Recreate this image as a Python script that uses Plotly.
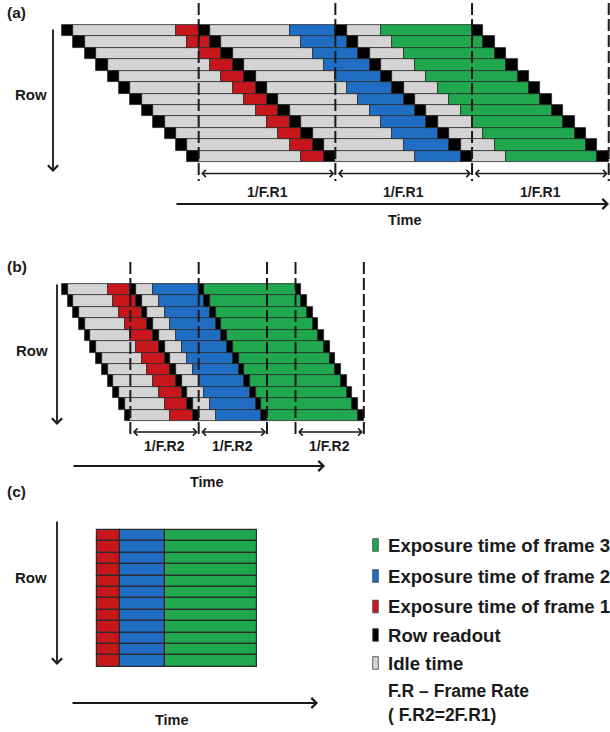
import plotly.graph_objects as go

W, H = 610, 732

# ---------------- data (time unit = one row readout of panel a) ----------------
ROWS = [0, 1, 2, 3, 4, 5, 6, 7, 8, 9, 10, 11]

A_ROW_OFFSET = [0, 1, 2, 3, 4, 5, 6, 7, 8, 9, 10, 11]
A_READOUT_LEN = 1.0
A_READOUT_START = [0, 12, 24, 36]
A_EXPOSURE = [2, 4, 8]
A_FRAME_MARKS = [12, 24, 36, 48]
A_SPANS = [[12, 24], [24, 36], [36, 48]]
A_SPAN_LABEL = "1/F.R1"

B_ROW_OFFSET = [0, 0.5, 1, 1.5, 2, 2.5, 3, 3.5, 4, 4.5, 5, 5.5]
B_READOUT_LEN = 0.5
B_READOUT_START = [0, 6, 12, 20.5]
B_EXPOSURE = [2, 4, 8]
B_FRAME_MARKS = [6, 12, 18, 20.5, 26.5]
B_SPANS = [[6, 12], [12, 18], [20.5, 26.5]]
B_SPAN_LABEL = "1/F.R2"

C_EXPOSURE = [2, 4, 8]

LEGEND_ITEMS = ["Exposure time of frame 3", "Exposure time of frame 2",
                "Exposure time of frame 1", "Row readout", "Idle time"]
NOTE_LINES = ["F.R \u2013 Frame Rate", "( F.R2=2F.R1)"]

# ---------------- styles ----------------
FRAME_COLORS = ["#c8161d", "#1f6ec4", "#1fa84d"]
IDLE_COLOR = "#d4d4d4"
READ_COLOR = "#000000"
EDGE = "#2b2b2b"
FONT = "Liberation Sans, Arial, sans-serif"
INK = "#1a1a1a"

# panel geometry in pixels: origin x, row-1 top, px per time unit, row height, y-domain
GEOM = {
    "a": dict(ox=62.0, oy=25.0, sx=11.39, rh=11.42, dom=(0, 245), xa="x", ya="y"),
    "b": dict(ox=62.0, oy=284.0, sx=11.39, rh=11.42, dom=(245, 495), xa="x2", ya="y2"),
    "c": dict(ox=96.7, oy=530.0, sx=11.43, rh=11.39, dom=(495, 732), xa="x3", ya="y3"),
}


def px(x):
    return x / W


def py(y):
    return 1 - y / H


def rolling_segments(offsets, rl, starts, exposures):
    idle, read = ([], [], []), ([], [], [])
    exp = [([], [], []) for _ in exposures]
    for r, off in zip(ROWS, offsets):
        for s in starts:
            read[0].append(r); read[1].append(off + s); read[2].append(rl)
        for k, e in enumerate(exposures):
            end = off + starts[k + 1]
            st = end - e
            i0 = off + starts[k] + rl
            if st - i0 > 1e-9:
                idle[0].append(r); idle[1].append(i0); idle[2].append(st - i0)
            exp[k][0].append(r); exp[k][1].append(st); exp[k][2].append(e)
    return idle, exp, read


def bar(seg, color, g, lw=0.8):
    ys, bases, durs = seg
    return go.Bar(orientation="h", y=ys, base=bases, x=durs, width=1,
                  marker=dict(color=color, line=dict(color=EDGE, width=lw)),
                  xaxis=g["xa"], yaxis=g["ya"], showlegend=False, hoverinfo="skip")


fig = go.Figure()

for key, offs, rl, starts, exps in [("a", A_ROW_OFFSET, A_READOUT_LEN, A_READOUT_START, A_EXPOSURE),
                                    ("b", B_ROW_OFFSET, B_READOUT_LEN, B_READOUT_START, B_EXPOSURE)]:
    g = GEOM[key]
    idle, exp, read = rolling_segments(offs, rl, starts, exps)
    fig.add_trace(bar(idle, IDLE_COLOR, g))
    for k in range(len(exps)):
        fig.add_trace(bar(exp[k], FRAME_COLORS[k], g))
    fig.add_trace(bar(read, READ_COLOR, g))

# panel c: global shutter - all rows expose simultaneously
g = GEOM["c"]
acc = 0
for k, e in enumerate(C_EXPOSURE):
    fig.add_trace(bar((ROWS, [acc] * len(ROWS), [e] * len(ROWS)), FRAME_COLORS[k], g, lw=1.2))
    acc += e

# ---------------- axes ----------------
layout_axes = {}
for i, key in enumerate(["a", "b", "c"]):
    g = GEOM[key]
    sfx = "" if i == 0 else str(i + 1)
    t, b = g["dom"]
    layout_axes["xaxis" + sfx] = dict(domain=[0, 1], range=[(0 - g["ox"]) / g["sx"], (W - g["ox"]) / g["sx"]],
                                      visible=False, fixedrange=True,
                                      anchor="y" + sfx)
    layout_axes["yaxis" + sfx] = dict(domain=[py(b), py(t)],
                                      range=[(b - g["oy"]) / g["rh"] - 0.5, (t - g["oy"]) / g["rh"] - 0.5],
                                      visible=False, fixedrange=True, anchor="x" + sfx)

shapes = []
ann = []


def text(x, y, s, size=14.5, anchor="center"):
    ann.append(dict(x=px(x), y=py(y), xref="paper", yref="paper", text=s, showarrow=False,
                    xanchor=anchor, yanchor="middle",
                    font=dict(family=FONT, size=size, color=INK, weight="bold")))


def arrow(x0, y0, x1, y1, w=1.8):
    ann.append(dict(x=px(x1), y=py(y1), xref="paper", yref="paper", ax=x0 - x1, ay=y0 - y1,
                    axref="pixel", ayref="pixel", text="", showarrow=True, arrowhead=4,
                    arrowsize=1.1, arrowwidth=w, arrowcolor=INK, standoff=0, startstandoff=0))


# frame markers and period spans
for key, marks, spans, lab, top, bot, arr_y, lab_y in [
        ("a", A_FRAME_MARKS, A_SPANS, A_SPAN_LABEL, 3, 181, 173.5, 192),
        ("b", B_FRAME_MARKS, B_SPANS, B_SPAN_LABEL, 262, 437, 432, 445.5)]:
    g = GEOM[key]
    for m in marks:
        shapes.append(dict(type="line", xref=g["xa"], yref="paper", x0=m, x1=m, y0=py(top), y1=py(bot),
                           line=dict(color=INK, width=2, dash="12px,4px")))
    for t0, t1 in spans:
        ann.append(dict(x=t1, y=py(arr_y), xref=g["xa"], yref="paper", ax=t0, ay=0,
                        axref=g["xa"], ayref="pixel", text="", showarrow=True,
                        arrowhead=4, startarrowhead=4, arrowside="end+start",
                        arrowsize=1.0, startarrowsize=1.0, arrowwidth=1.4, arrowcolor=INK,
                        standoff=1, startstandoff=1))
        ann.append(dict(x=(t0 + t1) / 2, y=py(lab_y), xref=g["xa"], yref="paper", text=lab,
                        showarrow=False, xanchor="center", yanchor="middle",
                        font=dict(family=FONT, size=14, color=INK, weight="bold")))

# panel labels, axis arrows
text(16.5, 13, "(a)", 15.5)
text(16.5, 266, "(b)", 15.5)
text(16.5, 491, "(c)", 15.5)
for (rx, ry), (ax_, y0, y1) in [((31, 94), (53, 28, 172)), ((32, 350), (57, 283, 425)), ((31, 577), (57, 520, 665))]:
    text(rx, ry, "Row", 15)
    arrow(ax_, y0, ax_, y1)
arrow(175, 204, 609, 204)
text(405, 220, "Time")
arrow(72, 466, 325, 466)
text(207, 482, "Time")
arrow(71, 703, 318, 703)
text(172, 720, "Time")

# legend (drawn manually)
sw_colors = [FRAME_COLORS[2], FRAME_COLORS[1], FRAME_COLORS[0], READ_COLOR, IDLE_COLOR]
leg_y = [545, 576, 606.5, 635, 663]
for lbl, c, yy in zip(LEGEND_ITEMS, sw_colors, leg_y):
    shapes.append(dict(type="rect", xref="paper", yref="paper", x0=px(372.7), x1=px(378.3),
                       y0=py(yy - 6.3), y1=py(yy + 6.3), fillcolor=c,
                       line=dict(color="#444444", width=0.8)))
    text(385.5, yy, lbl, 18.6, anchor="left")
for s, yy in zip(NOTE_LINES, [691, 715]):
    text(385.5, yy, s, 17.5, anchor="left")

fig.update_layout(width=W, height=H, margin=dict(l=0, r=0, t=0, b=0),
                  paper_bgcolor="white", plot_bgcolor="rgba(0,0,0,0)",
                  barmode="overlay", bargap=0, showlegend=False,
                  shapes=shapes, annotations=ann, **layout_axes)

fig.write_html("out.html", config={"displayModeBar": False},
               post_script="document.body.style.margin='0';document.body.style.overflow='hidden';")
